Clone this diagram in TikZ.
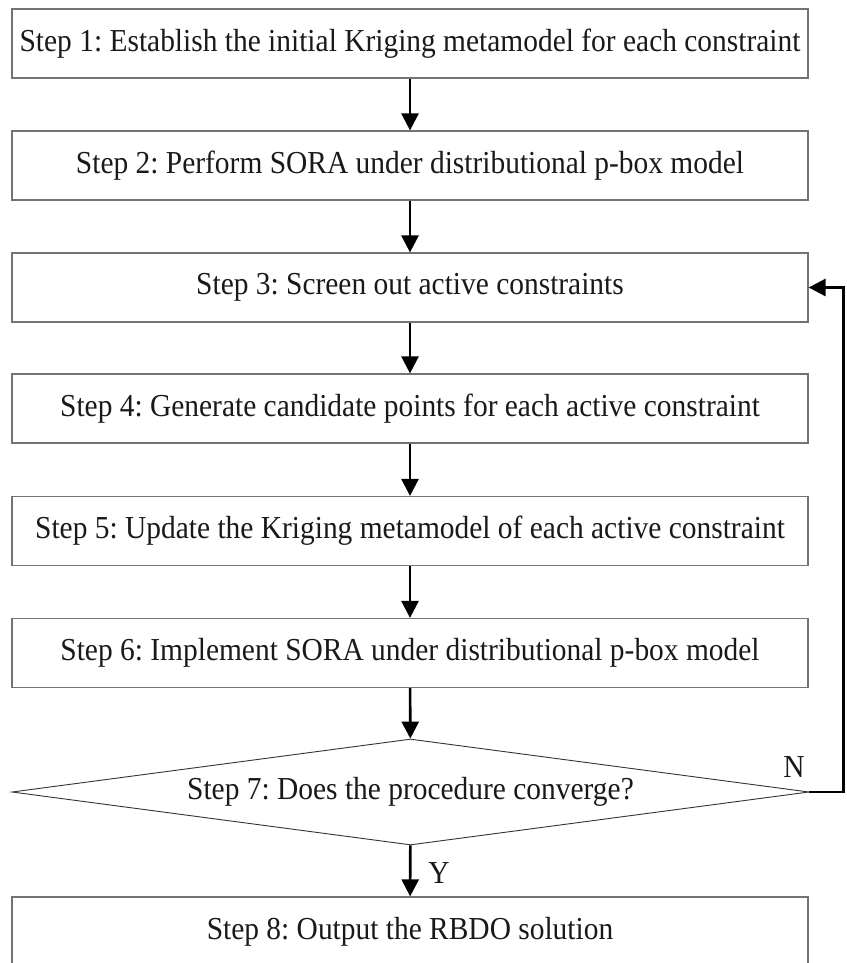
\documentclass[tikz,border=0pt]{standalone}
\usepackage{fontspec}
\setmainfont{Liberation Serif}[FakeStretch=0.92]
\frenchspacing
\usetikzlibrary{shapes.geometric, arrows.meta, positioning, calc}

\begin{document}
\begin{tikzpicture}[x=1pt, y=-1pt,
    stepbox/.style={draw=black!55, line width=1.2pt, minimum width=796pt, minimum height=69pt, inner sep=0pt, font=\fontsize{32}{36}\selectfont, text=black!90},
    decision/.style={draw=black!80, line width=0.9pt, shape=diamond, aspect=7.5, minimum width=797pt, minimum height=106pt, inner sep=0pt, font=\fontsize{32}{36}\selectfont, text=black!90},
    branch/.style={font=\fontsize{32}{36}\selectfont, text=black!90, inner sep=0pt},
    flow/.style={->, line width=2.6pt, >={Triangle[length=17pt,width=17pt]}}]
    \useasboundingbox (0,0) rectangle (846,963);

    \node[stepbox] (s1) at (410,43.5) {Step 1: Establish the initial Kriging metamodel for each constraint};
    \node[stepbox] (s2) at (410,165.5) {Step 2: Perform SORA under distributional p-box model};
    \node[stepbox] (s3) at (410,287.5) {Step 3: Screen out active constraints};
    \node[stepbox] (s4) at (410,408.5) {Step 4: Generate candidate points for each active constraint};
    \node[stepbox] (s5) at (410,531) {Step 5: Update the Kriging metamodel of each active constraint};
    \node[stepbox] (s6) at (410,653) {Step 6: Implement SORA under distributional p-box model};
    \node[decision] (s7) at (410.5,792) {Step 7: Does the procedure converge?};
    \node[stepbox] (s8) at (410,931.5) {Step 8: Output the RBDO solution};

    \node[branch] (no) at (794,767) {N};
    \node[branch] (yes) at (439,873) {Y};

    \draw[flow] (s1) -- (s2);
    \draw[flow] (s2) -- (s3);
    \draw[flow] (s3) -- (s4);
    \draw[flow] (s4) -- (s5);
    \draw[flow] (s5) -- (s6);
    \draw[flow] (s6) -- (s7);
    \draw[flow] (s7) -- (s8);
    \draw[flow] (s7.east) -- ++(34,0) |- (s3.east);
\end{tikzpicture}
\end{document}
